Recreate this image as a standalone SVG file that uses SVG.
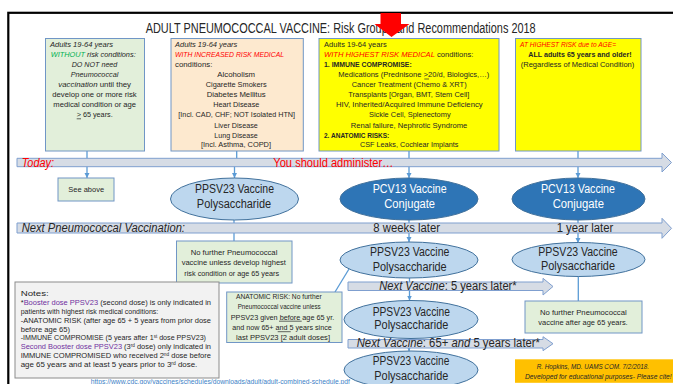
<svg xmlns="http://www.w3.org/2000/svg" width="673" height="384" viewBox="0 0 673 384">
<defs>
<style>
text{font-family:"Liberation Sans",Arial,sans-serif;fill:#262626}
.s{font-size:8px}
.m{font-size:12px}
.f{font-size:6.3px}
.c{text-anchor:middle}
.i{font-style:italic}
.b{font-weight:bold}
.n{font-weight:normal}
.r{fill:#ff0000}
.g{fill:#00b050}
.p{fill:#7030a0}
.w{fill:#ffffff}
.box{stroke:#7096c6;stroke-width:1}
.gb{fill:#e2efda}
.band{fill:#d6dce5;stroke:#7f9fcf;stroke-width:1}
.el{fill:#bdd7ee;stroke:#41719c;stroke-width:1}
.ed{fill:#2e75b6;stroke:#41719c;stroke-width:1}
.cn{stroke:#5b9bd5;stroke-width:1.3;fill:none}
.ul{stroke:#262626;stroke-width:0.7}
</style>
<marker id="ah" markerWidth="6" markerHeight="6" refX="5" refY="3" orient="auto" markerUnits="userSpaceOnUse"><path d="M0,0.5 L5,3 L0,5.5Z" fill="#5b9bd5"/></marker>
</defs>
<rect x="0" y="0" width="673" height="384" fill="#ffffff"/>
<rect x="8.3" y="12.8" width="700" height="400" fill="none" stroke="#000000" stroke-width="2.2"/>
<text id="title" x="145.7" y="33" font-size="14" textLength="390" lengthAdjust="spacingAndGlyphs">ADULT PNEUMOCOCCAL VACCINE:  Risk Groups and Recommendations 2018</text>

<g id="connectors">
<path class="cn" d="M87,151 V178" marker-end="url(#ah)"/>
<path class="cn" d="M236.7,151 V161 M234.5,165 V178" marker-end="url(#ah)"/>
<path class="cn" d="M409,151 V178" marker-end="url(#ah)"/>
<path class="cn" d="M578,151 V178" marker-end="url(#ah)"/>
<path class="cn" d="M234,220 V241"/>
<path class="cn" d="M409,220 V242" marker-end="url(#ah)"/>
<path class="cn" d="M578,220 V243" marker-end="url(#ah)"/>
<path class="cn" d="M409.5,278 V300.5" marker-end="url(#ah)"/>
<path class="cn" d="M409,338.5 V351" marker-end="url(#ah)"/>
<path class="cn" d="M578.3,276 V301"/>
<path class="cn" d="M349,269 L335,292"/>
</g>

<g id="timeline">
<path class="band" d="M17,158.3 H662 V153 L671.5,162.5 L662,172 V166.7 H17 Z"/>
<path class="band" d="M17,223 H662 V218.3 L671.5,228.3 L662,238.3 V233 H17 Z"/>
<path class="band" d="M348,282 H543 V278.3 L553,286.5 L543,295 V290.5 H348 Z"/>
<path class="band" d="M348,339.5 H543 V336.7 L553,343.7 L543,350.7 V348 H348 Z"/>
<text class="m i r" x="21.7" y="167.2" textLength="32.3" lengthAdjust="spacingAndGlyphs">Today:</text>
<text class="m r" x="273.3" y="167.2" textLength="120" lengthAdjust="spacingAndGlyphs">You should administer…</text>
<text class="m i" x="21.7" y="232.4" textLength="163.3" lengthAdjust="spacingAndGlyphs">Next Pneumococcal Vaccination:</text>
<text class="m" x="373.3" y="231.8" textLength="66.7" lengthAdjust="spacingAndGlyphs">8 weeks later</text>
<text class="m" x="556.7" y="231.8" textLength="56.6" lengthAdjust="spacingAndGlyphs">1 year later</text>
<text class="m" x="379.3" y="290.2" textLength="137.4" lengthAdjust="spacingAndGlyphs"><tspan class="i">Next Vaccine</tspan>: 5 years later*</text>
<text class="m" x="356.7" y="347.4" textLength="183.3" lengthAdjust="spacingAndGlyphs"><tspan class="i">Next Vaccine</tspan>: 65+ <tspan class="i">and</tspan> 5 years later*</text>
</g>

<g id="box-no-risk">
<rect class="box gb" x="45.5" y="38.5" width="99" height="112.5"/>
<text class="s i" x="50" y="47.2" textLength="63" lengthAdjust="spacingAndGlyphs">Adults 19-64 years</text>
<text class="s i" x="50.7" y="57.2" textLength="85" lengthAdjust="spacingAndGlyphs"><tspan class="g">WITHOUT</tspan> risk conditions:</text>
<text class="s i c" x="94.5" y="67.2" textLength="45.6" lengthAdjust="spacingAndGlyphs">DO NOT need</text>
<text class="s i c" x="94.5" y="77.2" textLength="47.6" lengthAdjust="spacingAndGlyphs">Pneumococcal</text>
<text class="s c" x="94.7" y="87.2" textLength="72.7" lengthAdjust="spacingAndGlyphs"><tspan class="i">vaccination</tspan> until they</text>
<text class="s c" x="94.5" y="97.2" textLength="84.4" lengthAdjust="spacingAndGlyphs">develop one or more risk</text>
<text class="s c" x="94.7" y="107.2" textLength="82.7" lengthAdjust="spacingAndGlyphs">medical condition or age</text>
<text class="s c" x="94.7" y="117.2" textLength="36" lengthAdjust="spacingAndGlyphs">&gt; 65 years.</text>
<line class="ul" x1="76.7" y1="118.8" x2="81" y2="118.8"/>
</g>

<g id="box-increased-risk">
<rect class="box" fill="#fde9cf" x="171" y="38.5" width="132.3" height="112.5"/>
<text class="s i" x="175" y="47.2" textLength="62.3" lengthAdjust="spacingAndGlyphs">Adults 19-64 years</text>
<text class="s i r" x="175" y="57.2" textLength="109" lengthAdjust="spacingAndGlyphs">WITH INCREASED RISK MEDICAL</text>
<text class="s" x="175" y="67.2" textLength="37.3" lengthAdjust="spacingAndGlyphs">conditions:</text>
<text class="s c" x="236.2" y="77.2" textLength="37.7" lengthAdjust="spacingAndGlyphs">Alcoholism</text>
<text class="s c" x="236.2" y="87.2" textLength="61" lengthAdjust="spacingAndGlyphs">Cigarette Smokers</text>
<text class="s c" x="236.2" y="97.2" textLength="59" lengthAdjust="spacingAndGlyphs">Diabetes Mellitus</text>
<text class="s c" x="236.3" y="107.2" textLength="46" lengthAdjust="spacingAndGlyphs">Heart Disease</text>
<text class="s c" x="236.7" y="117.2" textLength="116.7" lengthAdjust="spacingAndGlyphs">[Incl. CAD, CHF; NOT Isolated HTN]</text>
<text class="s c" x="236" y="128.2" textLength="43.4" lengthAdjust="spacingAndGlyphs">Liver Disease</text>
<text class="s c" x="236" y="138.2" textLength="43.4" lengthAdjust="spacingAndGlyphs">Lung Disease</text>
<text class="s c" x="236" y="147.2" textLength="70" lengthAdjust="spacingAndGlyphs">[Incl. Asthma, COPD]</text>
</g>

<g id="box-highest-risk">
<rect class="box" fill="#ffff00" x="319" y="38.5" width="180" height="112.5"/>
<text class="s" x="324" y="47.2" textLength="62.7" lengthAdjust="spacingAndGlyphs">Adults 19-64 years</text>
<text class="s" x="324" y="57.2" textLength="149.3" lengthAdjust="spacingAndGlyphs"><tspan class="i r">WITH HIGHEST RISK MEDICAL</tspan> conditions:</text>
<text class="s b" x="324" y="67.2" textLength="87.7" lengthAdjust="spacingAndGlyphs">1. IMMUNE COMPROMISE:</text>
<text class="s c" x="413.8" y="77.2" textLength="151" lengthAdjust="spacingAndGlyphs">Medications (Prednisone &gt;20/d, Biologics,…)</text>
<line class="ul" x1="424.3" y1="79" x2="429" y2="79"/>
<text class="s c" x="409.2" y="87.2" textLength="115" lengthAdjust="spacingAndGlyphs">Cancer Treatment (Chemo &amp; XRT)</text>
<text class="s c" x="408.8" y="97.2" textLength="121" lengthAdjust="spacingAndGlyphs">Transplants [Organ, BMT, Stem Cell]</text>
<text class="s c" x="409.3" y="107.2" textLength="146.7" lengthAdjust="spacingAndGlyphs">HIV, Inherited/Acquired Immune Deficiency</text>
<text class="s c" x="409.8" y="117.2" textLength="81.7" lengthAdjust="spacingAndGlyphs">Sickle Cell, Splenectomy</text>
<text class="s c" x="409" y="128.2" textLength="116.6" lengthAdjust="spacingAndGlyphs">Renal failure, Nephrotic Syndrome</text>
<text class="s b" x="324" y="138.2" textLength="65.3" lengthAdjust="spacingAndGlyphs">2. ANATOMIC RISKS:</text>
<text class="s c" x="409.2" y="147.2" textLength="98.3" lengthAdjust="spacingAndGlyphs">CSF Leaks, Cochlear Implants</text>
</g>

<g id="box-age">
<rect class="box" fill="#ffff00" x="515.5" y="38.5" width="125.5" height="112.5"/>
<text class="s i r" x="520" y="47.2" textLength="96" lengthAdjust="spacingAndGlyphs">AT HIGHEST RISK due to AGE=</text>
<text class="s b c" x="580" y="57.2" textLength="103.4" lengthAdjust="spacingAndGlyphs">ALL adults 65 years and older!</text>
<text class="s c" x="577.5" y="67.2" textLength="113.6" lengthAdjust="spacingAndGlyphs">(Regardless of Medical Condition)</text>
</g>

<g id="see-above">
<rect class="box gb" x="58" y="178" width="56" height="23"/>
<text class="s c" x="86.2" y="192.2" textLength="35.7" lengthAdjust="spacingAndGlyphs">See above</text>
</g>

<g id="ppsv23-today">
<ellipse class="el" cx="234.5" cy="199" rx="64" ry="21"/>
<text class="m c" x="234.5" y="193.3" textLength="79" lengthAdjust="spacingAndGlyphs">PPSV23 Vaccine</text>
<text class="m c" x="234" y="208.3" textLength="74.3" lengthAdjust="spacingAndGlyphs">Polysaccharide</text>
</g>

<g id="pcv13-mid">
<ellipse class="ed" cx="409" cy="199" rx="69" ry="21"/>
<text class="m c w" x="409.7" y="193.3" textLength="74" lengthAdjust="spacingAndGlyphs">PCV13 Vaccine</text>
<text class="m c w" x="409.7" y="208.3" textLength="50.7" lengthAdjust="spacingAndGlyphs">Conjugate</text>
</g>

<g id="pcv13-age">
<ellipse class="ed" cx="578.5" cy="199" rx="66.5" ry="21"/>
<text class="m c w" x="578" y="193.3" textLength="74" lengthAdjust="spacingAndGlyphs">PCV13 Vaccine</text>
<text class="m c w" x="578.3" y="208.3" textLength="51.3" lengthAdjust="spacingAndGlyphs">Conjugate</text>
</g>

<g id="no-further-mid">
<rect class="box gb" x="176.5" y="241" width="115.5" height="42"/>
<text class="s c" x="234" y="254.9" textLength="86.7" lengthAdjust="spacingAndGlyphs">No further Pneumococcal</text>
<text class="s c" x="233.8" y="264.9" textLength="104.3" lengthAdjust="spacingAndGlyphs">vaccine unless develop highest</text>
<text class="s c" x="231.7" y="275.9" textLength="94.7" lengthAdjust="spacingAndGlyphs">risk condition or age 65 years</text>
</g>

<g id="ppsv23-mid-2">
<ellipse class="el" cx="409" cy="260" rx="69" ry="18"/>
<text class="m c" x="409.7" y="256.2" textLength="79.3" lengthAdjust="spacingAndGlyphs">PPSV23 Vaccine</text>
<text class="m c" x="409.7" y="270.7" textLength="74" lengthAdjust="spacingAndGlyphs">Polysaccharide</text>
</g>

<g id="ppsv23-age">
<ellipse class="el" cx="578.5" cy="259.5" rx="66.5" ry="17"/>
<text class="m c" x="578" y="256.2" textLength="79.4" lengthAdjust="spacingAndGlyphs">PPSV23 Vaccine</text>
<text class="m c" x="578" y="270.2" textLength="74" lengthAdjust="spacingAndGlyphs">Polysaccharide</text>
</g>

<g id="no-further-age">
<rect class="box gb" x="525" y="301" width="117" height="32"/>
<text class="s c" x="583.3" y="315.2" textLength="86.7" lengthAdjust="spacingAndGlyphs">No further Pneumococcal</text>
<text class="s c" x="583" y="325.2" textLength="89.4" lengthAdjust="spacingAndGlyphs">vaccine after age 65 years.</text>
</g>

<g id="anatomic-risk">
<rect class="box gb" x="226.7" y="292" width="115.3" height="50.5"/>
<text class="s c" x="278.8" y="298.7" textLength="85.7" lengthAdjust="spacingAndGlyphs">ANATOMIC RISK: No further</text>
<text class="s c" x="279.2" y="309.2" textLength="83" lengthAdjust="spacingAndGlyphs">Pneumococcal vaccine unless</text>
<text class="s c" x="282.5" y="319.7" textLength="103.6" lengthAdjust="spacingAndGlyphs">PPSV23 given before age 65 yr.</text>
<line class="ul" x1="279" y1="321.2" x2="301.7" y2="321.2"/>
<text class="s c" x="282" y="330.2" textLength="99.4" lengthAdjust="spacingAndGlyphs">and now 65+ and 5 years since</text>
<line class="ul" x1="277.7" y1="331.7" x2="290.7" y2="331.7"/>
<text class="s c" x="283" y="340.2" textLength="94" lengthAdjust="spacingAndGlyphs">last PPSV23 [2 adult doses]</text>
</g>

<g id="ppsv23-mid-3">
<ellipse class="el" cx="411" cy="319.5" rx="67" ry="19"/>
<text class="m c" x="411.3" y="315.8" textLength="77.3" lengthAdjust="spacingAndGlyphs">PPSV23 Vaccine</text>
<text class="m c" x="411.3" y="329.2" textLength="74" lengthAdjust="spacingAndGlyphs">Polysaccharide</text>
</g>

<g id="ppsv23-mid-4">
<ellipse class="el" cx="411" cy="370" rx="67" ry="19"/>
<text class="m c" x="411" y="364.8" textLength="76.6" lengthAdjust="spacingAndGlyphs">PPSV23 Vaccine</text>
<text class="m c" x="411.3" y="380.2" textLength="74" lengthAdjust="spacingAndGlyphs">Polysaccharide</text>
</g>

<g id="notes">
<rect fill="#f2f2f2" stroke="#8c8c8c" stroke-width="1" x="15" y="282" width="204" height="96"/>
<text class="s" x="20.7" y="296.2" textLength="28" lengthAdjust="spacingAndGlyphs">Notes:</text>
<text class="s" x="20.7" y="305.2" textLength="190.3" lengthAdjust="spacingAndGlyphs">*<tspan class="p">Booster dose PPSV23</tspan> (second dose) is only indicated in</text>
<text class="s" x="20.7" y="314" textLength="137.6" lengthAdjust="spacingAndGlyphs">patients with highest risk medical conditions:</text>
<text class="s" x="20.7" y="322.7" textLength="190.3" lengthAdjust="spacingAndGlyphs">-ANATOMIC RISK (after age 65 + 5 years from prior dose</text>
<text class="s" x="20.7" y="331.5" textLength="49.3" lengthAdjust="spacingAndGlyphs">before age 65)</text>
<text class="s" x="20.7" y="340.4" textLength="185.3" lengthAdjust="spacingAndGlyphs">-IMMUNE COMPROMISE (5 years after 1<tspan dy="-2.5" font-size="5">st</tspan><tspan dy="2.5"> dose PPSV23)</tspan></text>
<text class="s" x="20.7" y="349.2" textLength="190.3" lengthAdjust="spacingAndGlyphs"><tspan class="p">Second Booster dose PPSV23</tspan> (3<tspan dy="-2.5" font-size="5">rd</tspan><tspan dy="2.5"> dose) only indicated in</tspan></text>
<text class="s" x="20.7" y="358.4" textLength="190.3" lengthAdjust="spacingAndGlyphs">IMMUNE COMPROMISED who received 2<tspan dy="-2.5" font-size="5">nd</tspan><tspan dy="2.5"> dose before</tspan></text>
<text class="s" x="20.7" y="367.2" textLength="176.6" lengthAdjust="spacingAndGlyphs">age 65 years and at least 5 years prior to 3<tspan dy="-2.5" font-size="5">rd</tspan><tspan dy="2.5"> dose.</tspan></text>
</g>

<g id="source">
<text x="90.7" y="384" font-size="6.5" style="fill:#3c7fc7" textLength="259.3" lengthAdjust="spacingAndGlyphs">https://www.cdc.gov/vaccines/schedules/downloads/adult/adult-combined-schedule.pdf</text>
</g>

<g id="citation">
<rect fill="#ffc000" x="515" y="359.3" width="158" height="23.5"/>
<text class="f i c" x="592.8" y="369" textLength="112.3" lengthAdjust="spacingAndGlyphs">R. Hopkins, MD. UAMS COM. 7/2/2018.</text>
<text class="f i c" x="598.3" y="379" textLength="146.7" lengthAdjust="spacingAndGlyphs">Developed for educational purposes- Please cite!</text>
</g>

<path id="red-arrow" d="M380.5,13 H401 V24 H409.5 L391.5,37 L374.5,24 H380.5 Z" fill="#ff0000"/>
</svg>
